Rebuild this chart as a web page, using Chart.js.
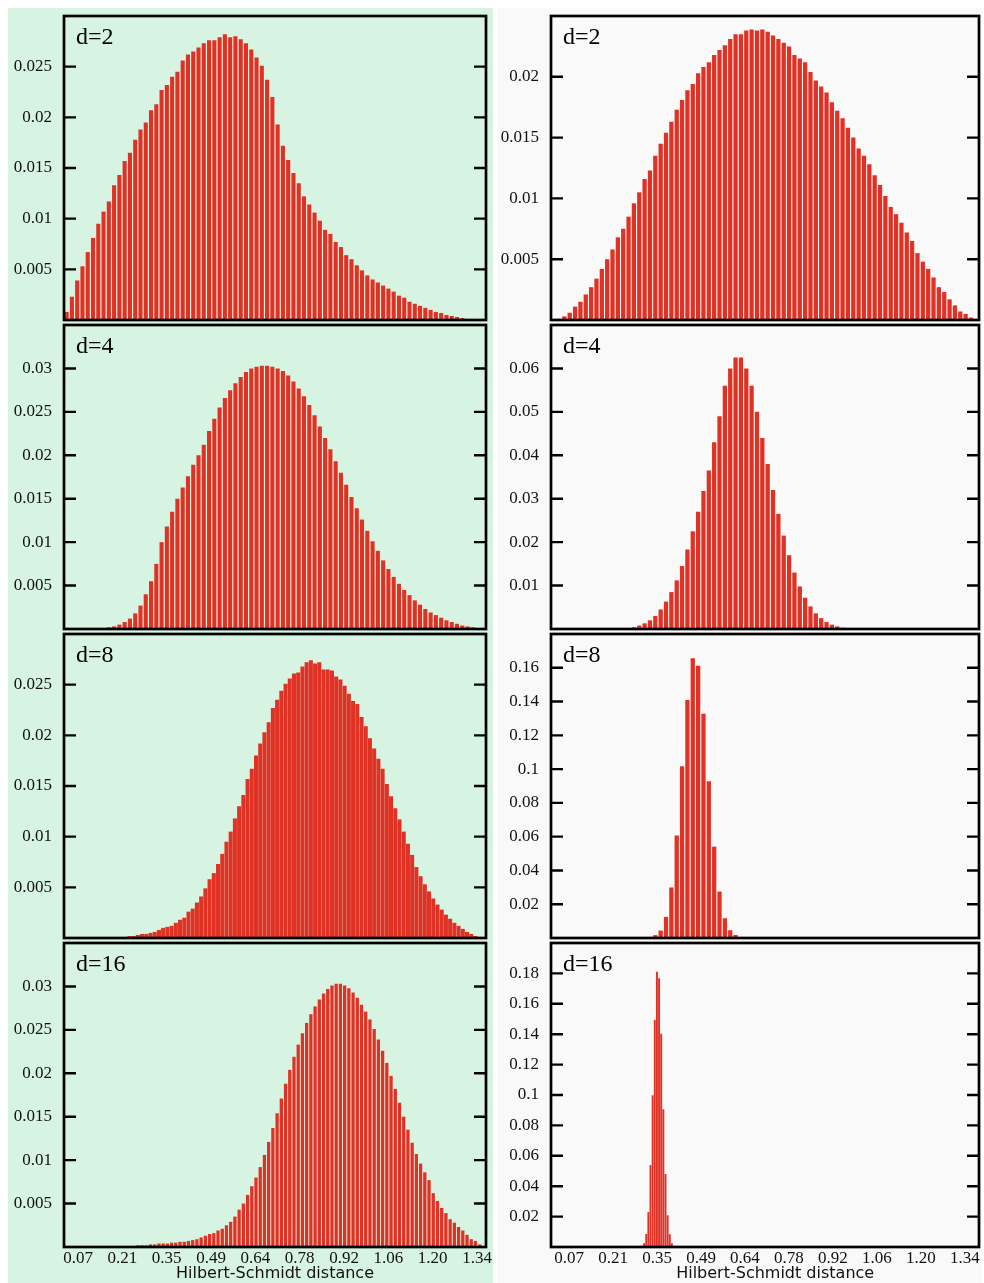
<!DOCTYPE html>
<html>
<head>
<meta charset="utf-8">
<script src="https://cdn.jsdelivr.net/npm/chart.js@4.4.1/dist/chart.umd.min.js"></script>
<style>
  body { margin: 0; width: 984px; height: 1283px; position: relative; background: #fff; overflow: hidden; }
  .col { position: absolute; top: 8px; bottom: 0; }
  #colL { left: 8px; width: 485px; background: #d7f4e3; }
  #colR { left: 497px; width: 485px; background: #f9f9f9; }
  canvas { position: absolute; }
</style>
</head>
<body>
<div class="col" id="colL"></div>
<div class="col" id="colR"></div>
<canvas id="L2"></canvas><canvas id="L4"></canvas><canvas id="L8"></canvas><canvas id="L16"></canvas>
<canvas id="R2"></canvas><canvas id="R4"></canvas><canvas id="R8"></canvas><canvas id="R16"></canvas>
<script>
// x tick labels (Hilbert-Schmidt distance), same on both columns
const xTickValues = [0.0707, 0.2121, 0.3536, 0.4950, 0.6364, 0.7778, 0.9192, 1.0607, 1.2021, 1.3435];
const xTickLabels = ["0.07", "0.21", "0.35", "0.49", "0.64", "0.78", "0.92", "1.06", "1.20", "1.34"];
const xRangeLeft = [0.026, 1.372];
const xRangeRight = [0.0128, 1.3886];

const panelLabels = ["d=2", "d=4", "d=8", "d=16"];

// left column histograms (bin heights)
const L2 = [
  0.0008, 0.0023, 0.0039, 0.0053, 0.0067, 0.0081, 0.0095, 0.0107, 0.0117, 0.0133,
  0.0143, 0.0157, 0.0165, 0.0178, 0.0188, 0.0195, 0.0207, 0.0213, 0.0227, 0.0232,
  0.0240, 0.0245, 0.0256, 0.0262, 0.0265, 0.0269, 0.0273, 0.0276, 0.0276, 0.0279,
  0.0282, 0.0279, 0.0280, 0.0277, 0.0273, 0.0267, 0.0259, 0.0251, 0.0237, 0.0220,
  0.0193, 0.0172, 0.0158, 0.0145, 0.0135, 0.0122, 0.0114, 0.0106, 0.0098, 0.0089,
  0.0085, 0.0077, 0.0072, 0.0064, 0.0060, 0.0054, 0.0049, 0.0044, 0.0040, 0.0037,
  0.0034, 0.0031, 0.0028, 0.0024, 0.0022, 0.0018, 0.0016, 0.0014, 0.0012, 0.0010,
  0.0008, 0.0007, 0.0005, 0.0004, 0.0003, 0.0002, 0, 0, 0, 0
];
const L4 = [
  0, 0, 0, 0, 0, 0, 0, 0.0001, 0.0002, 0.0003,
  0.0005, 0.0008, 0.0012, 0.0018, 0.0027, 0.0040, 0.0055, 0.0075, 0.0100, 0.0118,
  0.0135, 0.0150, 0.0163, 0.0176, 0.0189, 0.0200, 0.0212, 0.0228, 0.0242, 0.0255,
  0.0266, 0.0275, 0.0283, 0.0290, 0.0296, 0.0300, 0.0302, 0.0303, 0.0303, 0.0302,
  0.0300, 0.0297, 0.0292, 0.0285, 0.0277, 0.0268, 0.0258, 0.0246, 0.0233, 0.0220,
  0.0207, 0.0193, 0.0180, 0.0166, 0.0152, 0.0139, 0.0126, 0.0113, 0.0101, 0.0090,
  0.0079, 0.0069, 0.0060, 0.0052, 0.0045, 0.0039, 0.0033, 0.0028, 0.0023, 0.0019,
  0.0016, 0.0013, 0.0010, 0.0008, 0.0006, 0.0004, 0.0003, 0.0002, 0.0001, 0
];
const L8 = [
  0, 0, 0, 0, 0, 0, 0, 0, 0, 0,
  0, 0, 0.0001, 0.0001, 0.0001, 0.0002, 0.0002, 0.0003, 0.0004, 0.0004,
  0.0005, 0.0006, 0.0008, 0.0010, 0.0011, 0.0012, 0.0015, 0.0018, 0.0020, 0.0026,
  0.0029, 0.0035, 0.0041, 0.0049, 0.0058, 0.0064, 0.0073, 0.0083, 0.0095, 0.0105,
  0.0118, 0.0130, 0.0141, 0.0157, 0.0167, 0.0180, 0.0192, 0.0203, 0.0213, 0.0227,
  0.0235, 0.0244, 0.0251, 0.0256, 0.0261, 0.0262, 0.0268, 0.0272, 0.0274, 0.0271,
  0.0272, 0.0265, 0.0265, 0.0264, 0.0258, 0.0255, 0.0249, 0.0241, 0.0234, 0.0231,
  0.0218, 0.0209, 0.0197, 0.0187, 0.0177, 0.0167, 0.0152, 0.0140, 0.0128, 0.0117,
  0.0105, 0.0093, 0.0082, 0.0070, 0.0061, 0.0053, 0.0046, 0.0039, 0.0033, 0.0028,
  0.0023, 0.0019, 0.0015, 0.0012, 0.0009, 0.0006, 0.0004, 0.0002, 0.0001, 0
];
const L16 = [
  0, 0, 0, 0, 0, 0, 0, 0, 0, 0,
  0, 0, 0.0001, 0.0001, 0.0001, 0.0001, 0.0001, 0.0002, 0.0002, 0.0002,
  0.0003, 0.0003, 0.0004, 0.0004, 0.0004, 0.0005, 0.0005, 0.0006, 0.0006, 0.0007,
  0.0008, 0.0009, 0.0011, 0.0013, 0.0015, 0.0016, 0.0019, 0.0021, 0.0025, 0.0029,
  0.0035, 0.0043, 0.0050, 0.0060, 0.0070, 0.0080, 0.0092, 0.0106, 0.0121, 0.0137,
  0.0154, 0.0171, 0.0188, 0.0204, 0.0219, 0.0233, 0.0246, 0.0258, 0.0268, 0.0277,
  0.0285, 0.0292, 0.0297, 0.0301, 0.0303, 0.0303, 0.0301, 0.0298, 0.0293, 0.0287,
  0.0279, 0.0271, 0.0262, 0.0251, 0.0239, 0.0226, 0.0212, 0.0197, 0.0182, 0.0166,
  0.0150, 0.0135, 0.0120, 0.0107, 0.0096, 0.0086, 0.0077, 0.0062, 0.0053, 0.0045,
  0.0039, 0.0032, 0.0028, 0.0023, 0.0019, 0.0014, 0.0009, 0.0007, 0.0003, 0
];

// right column histograms
const R2 = [
  0, 0.0001, 0.0003, 0.0006, 0.0011, 0.0015, 0.0021, 0.0027, 0.0034, 0.0042,
  0.0050, 0.0058, 0.0068, 0.0075, 0.0085, 0.0096, 0.0105, 0.0116, 0.0123, 0.0135,
  0.0145, 0.0154, 0.0163, 0.0173, 0.0181, 0.0189, 0.0194, 0.0203, 0.0208, 0.0212,
  0.0218, 0.0222, 0.0226, 0.0231, 0.0235, 0.0235, 0.0238, 0.0239, 0.0238, 0.0239,
  0.0237, 0.0234, 0.0231, 0.0228, 0.0225, 0.0218, 0.0215, 0.0212, 0.0204, 0.0197,
  0.0192, 0.0187, 0.0179, 0.0172, 0.0166, 0.0158, 0.0150, 0.0141, 0.0135, 0.0128,
  0.0119, 0.0111, 0.0102, 0.0093, 0.0087, 0.0080, 0.0072, 0.0065, 0.0055, 0.0048,
  0.0042, 0.0035, 0.0027, 0.0023, 0.0017, 0.0012, 0.0007, 0.0005, 0.0002, 0
];
const R4 = [
  0, 0, 0, 0, 0, 0, 0, 0, 0, 0,
  0, 0, 0, 0.0001, 0.0002, 0.0004, 0.0008, 0.0013, 0.0020, 0.0030,
  0.0045, 0.0063, 0.0085, 0.0112, 0.0145, 0.0183, 0.0225, 0.0270, 0.0318, 0.0365,
  0.0430, 0.0490, 0.0560, 0.0600, 0.0625, 0.0625, 0.0600, 0.0560, 0.0500, 0.0440,
  0.0380, 0.0320, 0.0265, 0.0215, 0.0170, 0.0130, 0.0098, 0.0072, 0.0052, 0.0036,
  0.0025, 0.0016, 0.0010, 0.0006, 0.0003, 0.0002, 0.0001, 0, 0, 0,
  0, 0, 0, 0, 0, 0, 0, 0, 0, 0,
  0, 0, 0, 0, 0, 0, 0, 0, 0, 0
];
const R8 = [
  0, 0, 0, 0, 0, 0, 0, 0, 0, 0,
  0, 0, 0, 0, 0, 0, 0, 0, 0, 0.0017,
  0.0044, 0.0125, 0.0299, 0.0607, 0.1017, 0.1409, 0.1657, 0.1612, 0.1328, 0.0928,
  0.0541, 0.0275, 0.0117, 0.0046, 0.0018, 0.0005, 0, 0, 0, 0,
  0, 0, 0, 0, 0, 0, 0, 0, 0, 0,
  0, 0, 0, 0, 0, 0, 0, 0, 0, 0,
  0, 0, 0, 0, 0, 0, 0, 0, 0, 0,
  0, 0, 0, 0, 0, 0, 0, 0, 0, 0
];
const R16 = [
  0, 0, 0, 0, 0, 0, 0, 0, 0, 0,
  0, 0, 0, 0, 0, 0, 0, 0, 0, 0,
  0, 0, 0, 0, 0, 0, 0, 0, 0, 0,
  0, 0, 0, 0, 0, 0, 0, 0, 0, 0,
  0, 0, 0.0008, 0.0025, 0.0086, 0.0230, 0.0539, 0.0998, 0.1494, 0.1811,
  0.1768, 0.1403, 0.0906, 0.0480, 0.0209, 0.0084, 0.0025, 0.0008, 0, 0,
  0, 0, 0, 0, 0, 0, 0, 0, 0, 0,
  0, 0, 0, 0, 0, 0, 0, 0, 0, 0,
  0, 0, 0, 0, 0, 0, 0, 0, 0, 0,
  0, 0, 0, 0, 0, 0, 0, 0, 0, 0,
  0, 0, 0, 0, 0, 0, 0, 0, 0, 0,
  0, 0, 0, 0, 0, 0, 0, 0, 0, 0,
  0, 0, 0, 0, 0, 0, 0, 0, 0, 0,
  0, 0, 0, 0, 0, 0, 0, 0, 0, 0,
  0, 0, 0, 0, 0, 0, 0, 0, 0, 0,
  0, 0, 0, 0, 0, 0, 0, 0, 0, 0,
  0, 0, 0, 0, 0, 0, 0, 0, 0, 0,
  0, 0, 0, 0, 0, 0, 0, 0, 0, 0,
  0, 0, 0, 0, 0, 0, 0, 0, 0, 0,
  0, 0, 0, 0, 0, 0, 0, 0, 0, 0
];

// y axis ticks and tops
const yTicksL2 = [0.005, 0.01, 0.015, 0.02, 0.025];
const yTicksL4 = [0.005, 0.01, 0.015, 0.02, 0.025, 0.03];
const yTicksL8 = [0.005, 0.01, 0.015, 0.02, 0.025];
const yTicksL16 = [0.005, 0.01, 0.015, 0.02, 0.025, 0.03];
const yTicksR2 = [0.005, 0.01, 0.015, 0.02];
const yTicksR4 = [0.01, 0.02, 0.03, 0.04, 0.05, 0.06];
const yTicksR8 = [0.02, 0.04, 0.06, 0.08, 0.1, 0.12, 0.14, 0.16];
const yTicksR16 = [0.02, 0.04, 0.06, 0.08, 0.1, 0.12, 0.14, 0.16, 0.18];
const yMaxLeft = [0.03, 0.035, 0.03, 0.035];
const yMaxRight = [0.025, 0.07, 0.18, 0.2];

const BAR_RED = "#e03224";
const FRAME_TOP = 16, FRAME_H = 304, FRAME_GAP = 5;

Chart.defaults.font.family = "'Liberation Serif', serif";

function framePlugin(label, yTicks) {
  return {
    id: "panelFrame",
    afterDatasetsDraw(chart) {
      const { ctx, chartArea: a } = chart;
      const y = chart.scales.y;
      ctx.save();
      ctx.strokeStyle = "#000";
      ctx.lineWidth = 2.7;
      ctx.strokeRect(a.left, a.top, a.right - a.left, a.bottom - a.top);
      ctx.lineWidth = 2.4;
      ctx.beginPath();
      yTicks.forEach(v => {
        const py = y.getPixelForValue(v);
        ctx.moveTo(a.left, py); ctx.lineTo(a.left + 12, py);
        ctx.moveTo(a.right - 12, py); ctx.lineTo(a.right, py);
      });
      ctx.stroke();
      ctx.fillStyle = "#000";
      ctx.font = "24px 'Liberation Serif'";
      ctx.fillText(label, a.left + 12, a.top + 28);
      ctx.restore();
    }
  };
}

function makePanel(id, side, row, values, yMax, yTicks, barPct) {
  const bottomRow = row === 3;
  const top = FRAME_TOP + row * (FRAME_H + FRAME_GAP);
  const cv = document.getElementById(id);
  const axisW = side === "L" ? 64 : 59;
  const h = bottomRow ? 1283 - (top - 4) : FRAME_H + 8;
  const range = side === "L" ? xRangeLeft : xRangeRight;
  cv.width = 492;
  cv.height = h;
  cv.style.left = (side === "L" ? 0 : 492) + "px";
  cv.style.top = (top - 4) + "px";

  const xl = {
    type: "linear",
    position: "bottom",
    display: bottomRow,
    offset: false,
    min: range[0],
    max: range[1],
    grid: { display: false, drawTicks: false, offset: false },
    border: { display: false },
    ticks: {
      autoSkip: false, maxRotation: 0, padding: 1, color: "#111",
      font: { family: "'Liberation Serif'", size: 17 },
      callback: (v, i) => xTickLabels[i]
    },
    afterBuildTicks: s => { s.ticks = xTickValues.map(v => ({ value: v })); },
    title: {
      display: true, text: side === "L" ? "Hilbert-Schmidt distance" : "\u00a0\u00a0\u00a0\u00a0Hilbert-Schmidt distance",
      color: "#111",
      font: { family: "'DejaVu Sans'", size: 16 }, padding: { top: 0, bottom: 0 }
    }
  };
  if (bottomRow) {
    xl.afterFit = s => { s.height = 36; s.paddingLeft = 0; s.paddingRight = 0; };
  }

  new Chart(cv, {
    type: "bar",
    data: {
      labels: values.map((v, i) => i + 1),
      datasets: [{
        data: values,
        backgroundColor: BAR_RED,
        borderWidth: 0,
        barPercentage: barPct,
        categoryPercentage: 1
      }]
    },
    options: {
      responsive: false,
      animation: false,
      layout: { padding: { left: 0, right: side === "L" ? 6 : 5, top: 4, bottom: bottomRow ? 0 : 4 } },
      plugins: { legend: { display: false }, tooltip: { enabled: false } },
      scales: {
        x: { display: false },
        xl: xl,
        y: {
          min: 0,
          max: yMax,
          grid: { display: false, drawTicks: false },
          border: { display: false },
          ticks: {
            padding: 12, color: "#111",
            font: { family: "'Liberation Serif'", size: 17 },
            callback: v => String(v)
          },
          afterBuildTicks: s => { s.ticks = yTicks.map(v => ({ value: v })); },
          afterFit: s => { s.width = axisW; s.paddingTop = 0; s.paddingBottom = 0; }
        }
      }
    },
    plugins: [framePlugin(panelLabels[row], yTicks)]
  });
}

makePanel("L2", "L", 0, L2, yMaxLeft[0], yTicksL2, 0.78);
makePanel("L4", "L", 1, L4, yMaxLeft[1], yTicksL4, 0.78);
makePanel("L8", "L", 2, L8, yMaxLeft[2], yTicksL8, 0.96);
makePanel("L16", "L", 3, L16, yMaxLeft[3], yTicksL16, 0.78);
makePanel("R2", "R", 0, R2, yMaxRight[0], yTicksR2, 0.8);
makePanel("R4", "R", 1, R4, yMaxRight[1], yTicksR4, 0.8);
makePanel("R8", "R", 2, R8, yMaxRight[2], yTicksR8, 0.8);
makePanel("R16", "R", 3, R16, yMaxRight[3], yTicksR16, 0.9);
</script>
</body>
</html>
